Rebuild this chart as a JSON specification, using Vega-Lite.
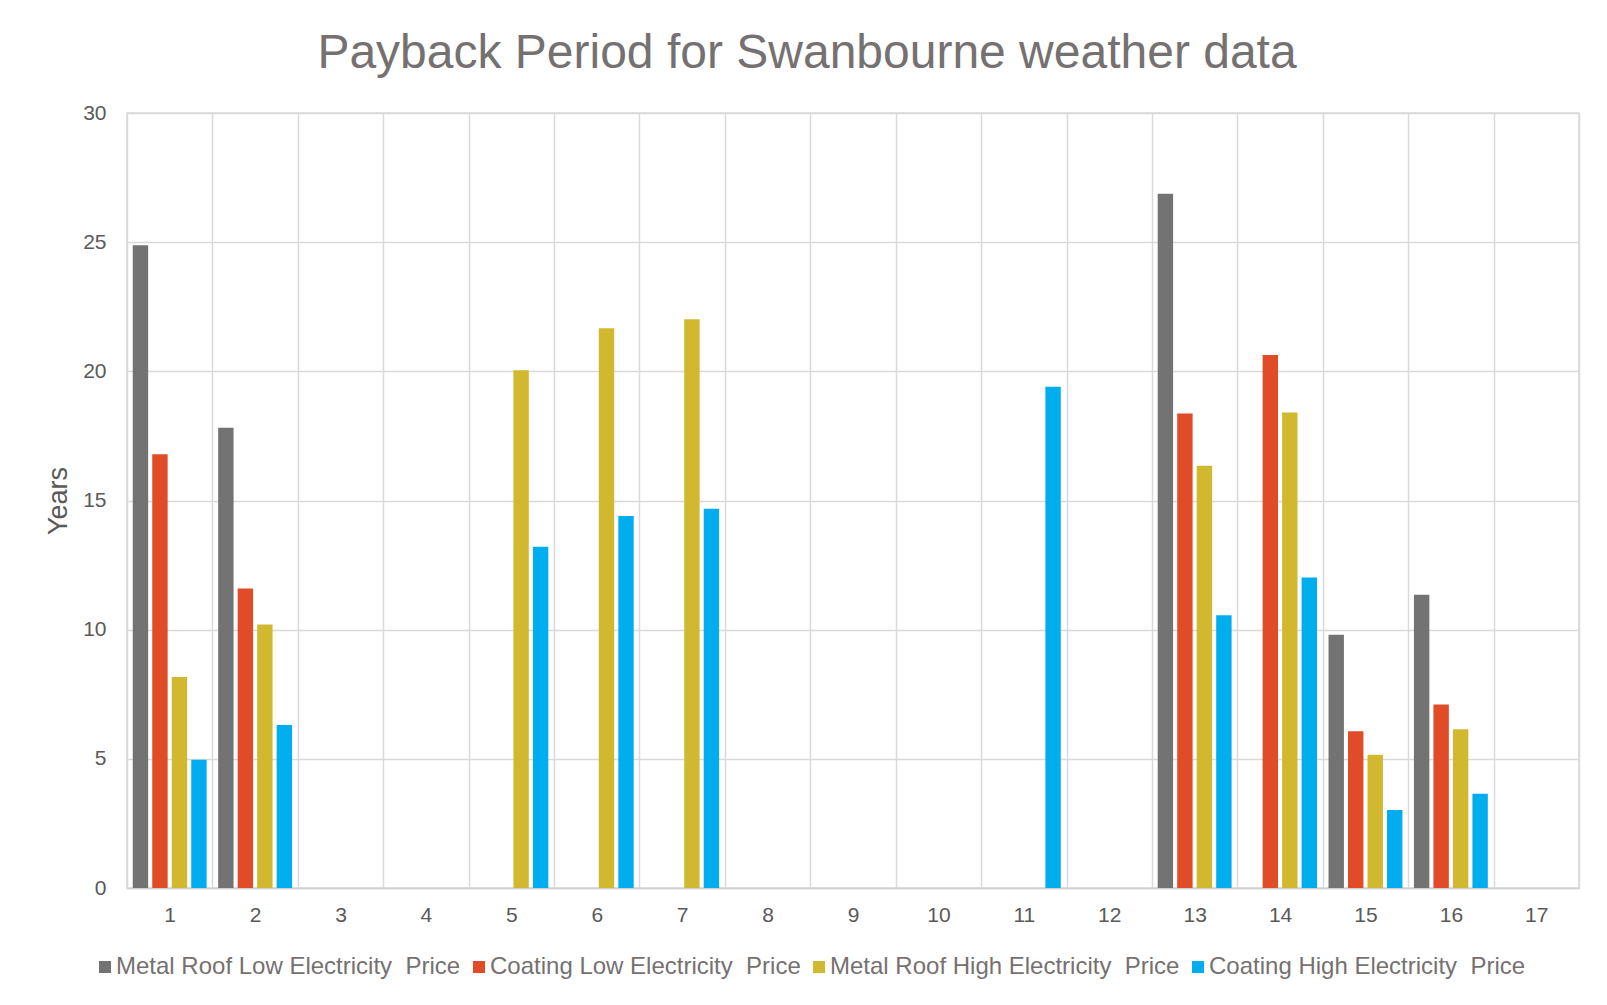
{
  "$schema": "https://vega.github.io/schema/vega-lite/v6.json",
  "width": 1452,
  "height": 775,
  "autosize": {"type": "none"},
  "padding": {"left": 127, "top": 113, "right": 28, "bottom": 117},
  "background": "white",
  "title": {
    "text": "Payback Period for Swanbourne weather data",
    "anchor": "middle",
    "frame": "group",
    "dx": -46,
    "offset": 24,
    "fontSize": 48,
    "font": "Liberation Sans",
    "fontWeight": "normal",
    "color": "#767171"
  },
  "data": {
    "values": [
      {"Site": "1", "Series": "Metal Roof Low Electricity\u00a0 Price", "Years": 24.88},
      {"Site": "1", "Series": "Coating Low Electricity\u00a0 Price", "Years": 16.79},
      {"Site": "1", "Series": "Metal Roof High Electricity\u00a0 Price", "Years": 8.17},
      {"Site": "1", "Series": "Coating High Electricity\u00a0 Price", "Years": 4.96},
      {"Site": "2", "Series": "Metal Roof Low Electricity\u00a0 Price", "Years": 17.82},
      {"Site": "2", "Series": "Coating Low Electricity\u00a0 Price", "Years": 11.59},
      {"Site": "2", "Series": "Metal Roof High Electricity\u00a0 Price", "Years": 10.2},
      {"Site": "2", "Series": "Coating High Electricity\u00a0 Price", "Years": 6.31},
      {"Site": "5", "Series": "Metal Roof High Electricity\u00a0 Price", "Years": 20.04},
      {"Site": "5", "Series": "Coating High Electricity\u00a0 Price", "Years": 13.21},
      {"Site": "6", "Series": "Metal Roof High Electricity\u00a0 Price", "Years": 21.67},
      {"Site": "6", "Series": "Coating High Electricity\u00a0 Price", "Years": 14.4},
      {"Site": "7", "Series": "Metal Roof High Electricity\u00a0 Price", "Years": 22.02},
      {"Site": "7", "Series": "Coating High Electricity\u00a0 Price", "Years": 14.68},
      {"Site": "11", "Series": "Coating High Electricity\u00a0 Price", "Years": 19.4},
      {"Site": "13", "Series": "Metal Roof Low Electricity\u00a0 Price", "Years": 26.87},
      {"Site": "13", "Series": "Coating Low Electricity\u00a0 Price", "Years": 18.37},
      {"Site": "13", "Series": "Metal Roof High Electricity\u00a0 Price", "Years": 16.35},
      {"Site": "13", "Series": "Coating High Electricity\u00a0 Price", "Years": 10.56},
      {"Site": "14", "Series": "Coating Low Electricity\u00a0 Price", "Years": 20.63},
      {"Site": "14", "Series": "Metal Roof High Electricity\u00a0 Price", "Years": 18.41},
      {"Site": "14", "Series": "Coating High Electricity\u00a0 Price", "Years": 12.02},
      {"Site": "15", "Series": "Metal Roof Low Electricity\u00a0 Price", "Years": 9.8},
      {"Site": "15", "Series": "Coating Low Electricity\u00a0 Price", "Years": 6.07},
      {"Site": "15", "Series": "Metal Roof High Electricity\u00a0 Price", "Years": 5.16},
      {"Site": "15", "Series": "Coating High Electricity\u00a0 Price", "Years": 3.02},
      {"Site": "16", "Series": "Metal Roof Low Electricity\u00a0 Price", "Years": 11.35},
      {"Site": "16", "Series": "Coating Low Electricity\u00a0 Price", "Years": 7.1},
      {"Site": "16", "Series": "Metal Roof High Electricity\u00a0 Price", "Years": 6.15},
      {"Site": "16", "Series": "Coating High Electricity\u00a0 Price", "Years": 3.65}
    ]
  },
  "mark": {"type": "bar"},
  "encoding": {
    "x": {
      "field": "Site",
      "type": "ordinal",
      "scale": {
        "domain": ["1","2","3","4","5","6","7","8","9","10","11","12","13","14","15","16","17"],
        "paddingInner": 0,
        "paddingOuter": 0
      },
      "axis": {
        "title": null,
        "labelAngle": 0,
        "tickBand": "extent",
        "ticks": false,
        "grid": true,
        "gridColor": "#d9d9d9",
        "gridWidth": 1.5,
        "domainColor": "#d0d0d0",
        "domainWidth": 1.5,
        "labelFont": "Liberation Sans",
        "labelFontSize": 21,
        "labelColor": "#595959",
        "labelPadding": 16
      }
    },
    "xOffset": {
      "field": "Series",
      "type": "nominal",
      "sort": ["Metal Roof Low Electricity\u00a0 Price", "Coating Low Electricity\u00a0 Price", "Metal Roof High Electricity\u00a0 Price", "Coating High Electricity\u00a0 Price"],
      "scale": {
        "domain": ["Metal Roof Low Electricity\u00a0 Price", "Coating Low Electricity\u00a0 Price", "Metal Roof High Electricity\u00a0 Price", "Coating High Electricity\u00a0 Price"],
        "paddingInner": 0.21,
        "paddingOuter": 0.295
      }
    },
    "y": {
      "field": "Years",
      "type": "quantitative",
      "scale": {"domain": [0, 30], "nice": false},
      "axis": {
        "title": "Years",
        "values": [0, 5, 10, 15, 20, 25, 30],
        "domain": false,
        "ticks": false,
        "grid": true,
        "gridColor": "#d9d9d9",
        "gridWidth": 1.5,
        "labelFont": "Liberation Sans",
        "labelFontSize": 21,
        "labelColor": "#595959",
        "labelPadding": 21,
        "titleFont": "Liberation Sans",
        "titleFontSize": 27,
        "titleFontWeight": "normal",
        "titleColor": "#595959",
        "titlePadding": 10
      }
    },
    "color": {
      "field": "Series",
      "type": "nominal",
      "scale": {
        "domain": ["Metal Roof Low Electricity\u00a0 Price", "Coating Low Electricity\u00a0 Price", "Metal Roof High Electricity\u00a0 Price", "Coating High Electricity\u00a0 Price"],
        "range": ["#737373", "#E04B28", "#D1B82E", "#00AEEF"]
      },
      "legend": {
        "orient": "none",
        "legendX": -34,
        "legendY": 842,
        "direction": "horizontal",
        "columns": 4,
        "title": null,
        "symbolType": "square",
        "symbolSize": 144,
        "symbolStrokeWidth": 0,
        "labelFont": "Liberation Sans",
        "labelFontSize": 24,
        "labelColor": "#767171",
        "labelLimit": 600,
        "labelOffset": -1,
        "columnPadding": 6
      }
    }
  },
  "config": {
    "view": {"stroke": "#d9d9d9", "strokeWidth": 1.5}
  }
}
